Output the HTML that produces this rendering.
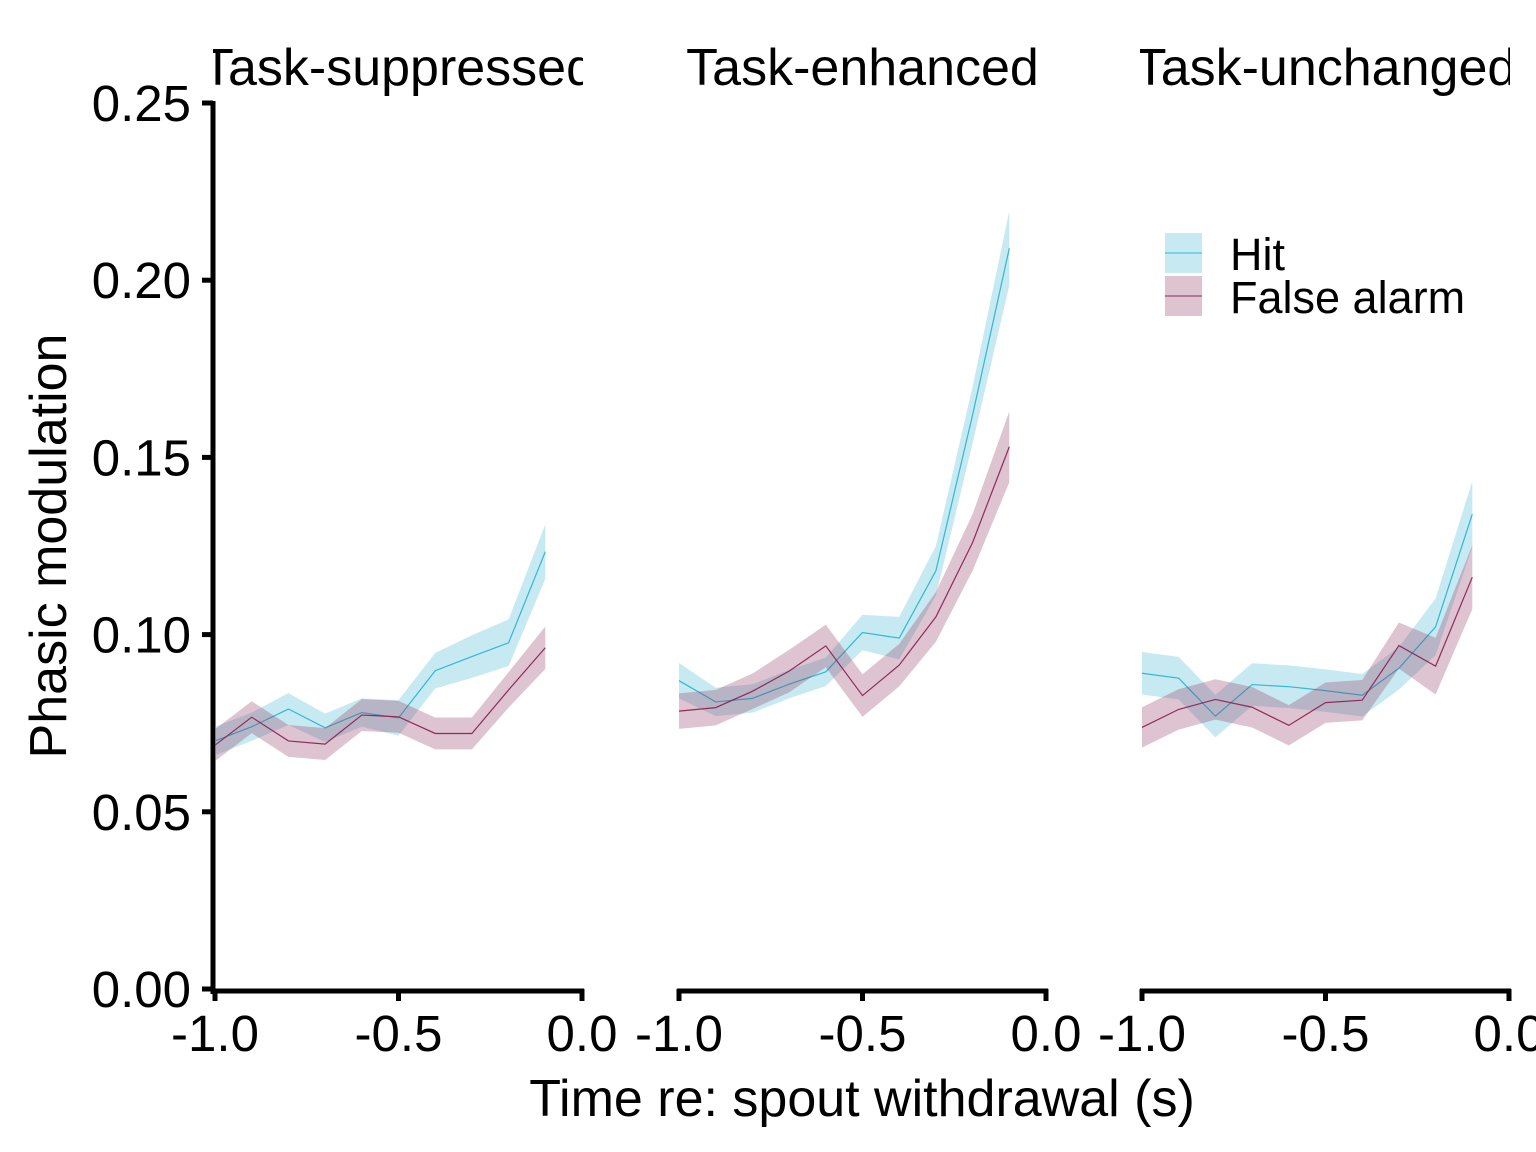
<!DOCTYPE html>
<html><head><meta charset="utf-8"><style>
html,body{margin:0;padding:0;background:#fff}
svg{display:block;font-family:"Liberation Sans",Arial,sans-serif}
</style></head><body>
<svg id="c" width="1536" height="1152" viewBox="0 0 1536 1152"></svg>
<script>
const panels=["Task-suppressed","Task-enhanced","Task-unchanged"];
const times=[-1.0,-0.9,-0.8,-0.7,-0.6,-0.5,-0.4,-0.3,-0.2,-0.1];
const hit1=[0.070,0.074,0.079,0.0737,0.078,0.0765,0.0898,0.0938,0.0977,0.1234];
const hitSe1=[0.004,0.004,0.0045,0.004,0.004,0.005,0.005,0.006,0.0066,0.0077];
const fa1=[0.0688,0.0767,0.070,0.0691,0.0773,0.0768,0.0721,0.0721,0.0844,0.0963];
const faSe1=[0.0045,0.0045,0.0045,0.0045,0.0045,0.0045,0.0045,0.0045,0.005,0.006];
const hit2=[0.087,0.081,0.082,0.086,0.0895,0.1006,0.099,0.118,0.162,0.209];
const hitSe2=[0.005,0.004,0.004,0.004,0.004,0.005,0.006,0.007,0.008,0.0105];
const fa2=[0.0784,0.0794,0.084,0.0897,0.0968,0.0828,0.0914,0.105,0.126,0.153];
const faSe2=[0.005,0.005,0.005,0.006,0.006,0.006,0.006,0.007,0.008,0.010];
const hit3=[0.0891,0.0877,0.077,0.0859,0.0853,0.0842,0.0829,0.0905,0.1022,0.134];
const hitSe3=[0.006,0.006,0.006,0.006,0.006,0.006,0.006,0.006,0.008,0.0093];
const fa3=[0.0738,0.0789,0.0817,0.0795,0.0744,0.0808,0.0815,0.0969,0.0911,0.1162];
const faSe3=[0.0057,0.0057,0.0057,0.0057,0.0057,0.0057,0.0057,0.0065,0.008,0.009];
const yTicks=[0,0.05,0.10,0.15,0.20,0.25];
const yTickLabels=["0.00","0.05","0.10","0.15","0.20","0.25"];
const xTicks=[-1.0,-0.5,0.0];
const xTickLabels=["-1.0","-0.5","0.0"];

const hits=[hit1,hit2,hit3],hitSes=[hitSe1,hitSe2,hitSe3],fas=[fa1,fa2,fa3],faSes=[faSe1,faSe2,faSe3];
const NS="http://www.w3.org/2000/svg";
const svg=document.getElementById('c');
function mk(t,a,p){const e=document.createElementNS(NS,t);for(const k in a)e.setAttribute(k,a[k]);(p||svg).appendChild(e);return e;}
const y0=989,y1=103;
function Y(v){return y0-(v/0.25)*(y0-y1);}
const pLeft=[215,679,1142],pW=367;
function X(p,t){return pLeft[p]+(t+1)*pW;}

const ya=mk('g',{});
mk('line',{x1:213,y1:101,x2:213,y2:994,stroke:'#000','stroke-width':5},ya);
yTicks.forEach((v,i)=>{
  mk('line',{x1:202,y1:Y(v),x2:213,y2:Y(v),stroke:'#000','stroke-width':5},ya);
  const t=mk('text',{x:191,y:Y(v)+18,'text-anchor':'end','font-size':51,fill:'#000'},ya);
  t.textContent=yTickLabels[i];
  
  
});
const yl=mk('text',{x:0,y:0,'font-size':52,'text-anchor':'middle',transform:'translate(66,546) rotate(-90)'});
yl.textContent='Phasic modulation';



const defs=mk('defs',{});
for(let p=0;p<3;p++){
  const cp=mk('clipPath',{id:'cp'+p},defs);
  mk('rect',{x:pLeft[p]-2,y:0,width:pW+3,height:1152},cp);
  const g=mk('g',{});
  
  
  const tt=mk('text',{x:X(p,-0.5),y:85,'text-anchor':'middle','font-size':52,'clip-path':'url(#cp'+p+')'},g);
  tt.textContent=panels[p];
  
  
  [[hits[p],hitSes[p],'rgb(92,190,215)',0.34,'#2fb8d4','hit'],[fas[p],faSes[p],'rgb(145,58,101)',0.3,'#8e2b5c','false-alarm']].forEach(s=>{
    const [vals,se,fc,op,lc,nm]=s;
    let d='';
    vals.forEach((v,i)=>{d+=(i?'L':'M')+X(p,times[i])+','+Y(v+se[i]);});
    for(let i=vals.length-1;i>=0;i--)d+='L'+X(p,times[i])+','+Y(vals[i]-se[i]);
    const band=mk('path',{d:d+'Z',fill:fc,'fill-opacity':op},g);
    
    
    const pts=vals.map((v,i)=>X(p,times[i])+','+Y(v)).join(' ');
    const ln=mk('polyline',{points:pts,fill:'none',stroke:lc,'stroke-width':1.2},g);
    
    
  });
  const xa=mk('g',{},g);
  
  
  mk('line',{x1:pLeft[p]-2,y1:991,x2:pLeft[p]+pW+2,y2:991,stroke:'#000','stroke-width':5},xa);
  xTicks.forEach((t,i)=>{
    mk('line',{x1:X(p,t),y1:989,x2:X(p,t),y2:1001,stroke:'#000','stroke-width':5},xa);
    const tl=mk('text',{x:X(p,t),y:1051,'text-anchor':'middle','font-size':51},xa);
    tl.textContent=xTickLabels[i];
    
    
  });
}
const xl=mk('text',{x:862,y:1116,'text-anchor':'middle','font-size':52});
xl.textContent='Time re: spout withdrawal (s)';



const lg=mk('g',{});


[['Hit','rgb(92,190,215)',0.34,'#2fb8d4',233],['False alarm','rgb(145,58,101)',0.3,'#8e2b5c',276]].forEach(e=>{
  const eg=mk('g',{},lg);
  
  
  mk('rect',{x:1165,y:e[4],width:37,height:40,fill:e[1],'fill-opacity':e[2]},eg);
  mk('line',{x1:1165,y1:e[4]+20,x2:1202,y2:e[4]+20,stroke:e[3],'stroke-width':1},eg);
  const t=mk('text',{x:1230,y:e[4]+37,'font-size':45},eg);
  t.textContent=e[0];
});
</script>
</body></html>
